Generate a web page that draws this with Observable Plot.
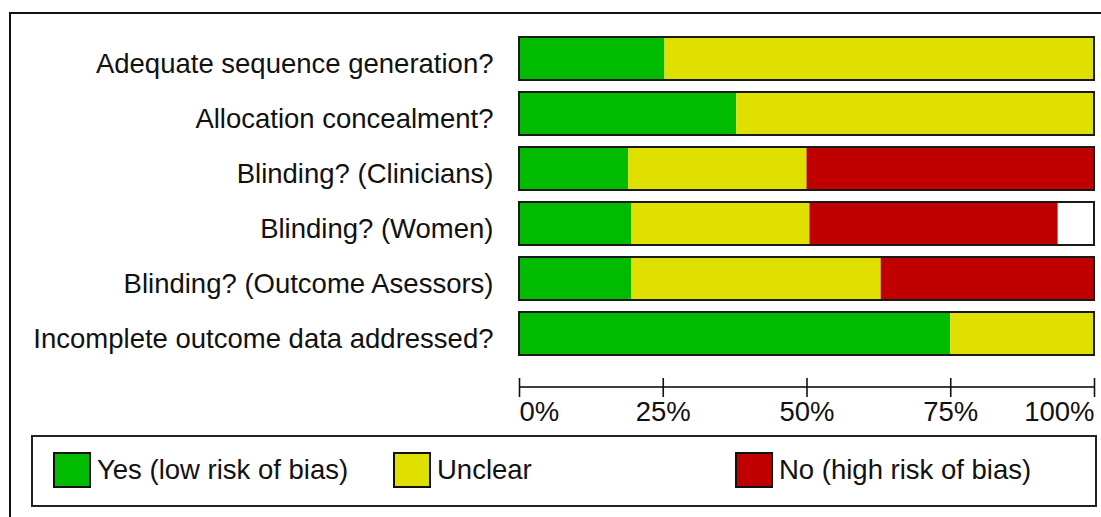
<!DOCTYPE html>
<html><head><meta charset="utf-8">
<script src="https://cdn.jsdelivr.net/npm/d3@7"></script>
<script src="https://cdn.jsdelivr.net/npm/@observablehq/plot@0.6"></script>
<style>
html,body{margin:0;padding:0;background:#fff;overflow:hidden;}
#wrap{position:relative;width:1101px;height:517px;overflow:hidden;font-family:"Liberation Sans",Arial,sans-serif;color:#111;}
#frame{position:absolute;left:9px;top:12px;width:2000px;height:2000px;border-left:2px solid #111;border-top:2px solid #111;}
#chart{position:absolute;left:0;top:0;}
#legend{position:absolute;left:31px;top:435px;width:1062px;height:68px;border:2px solid #222;}
.sw{position:absolute;top:15px;width:38px;height:36px;box-sizing:border-box;border:2px solid #111;}
.lt{position:absolute;top:15px;height:36px;line-height:36px;font-size:27.5px;white-space:nowrap;}
</style>
</head><body>
<div id="wrap"><div id="frame"></div><div id="chart"></div><div id="legend"></div></div>
<script>
const categories = [
  "Adequate sequence generation?",
  "Allocation concealment?",
  "Blinding? (Clinicians)",
  "Blinding? (Women)",
  "Blinding? (Outcome Asesssors)".replace("sss","ss"),
  "Incomplete outcome data addressed?"
];
const levels = ["Yes (low risk of bias)", "Unclear", "No (high risk of bias)", "Not reported"];
const colors = ["#00bb00", "#e0e000", "#c00000", "#ffffff"];
const yesValues = [25.3, 37.8, 19.0, 19.5, 19.5, 75.0];
const unclearValues = [74.7, 62.2, 31.0, 31.0, 43.4, 25.0];
const noValues = [0, 0, 50.0, 43.2, 37.1, 0];
const missingValues = [0, 0, 0, 6.3, 0, 0];
const tickValues = [0, 25, 50, 75, 100];
const tickLabels = ["0%", "25%", "50%", "75%", "100%"];

const series = [yesValues, unclearValues, noValues, missingValues];
const rows = [];
categories.forEach((c, i) => levels.forEach((l, j) => rows.push({q: c, level: l, value: series[j][i]})));
const ticks = tickValues.map((v, i) => ({v, label: tickLabels[i]}));

const plot = Plot.plot({
  width: 1101,
  height: 430,
  marginLeft: 519,
  marginRight: 7,
  marginTop: 378,
  marginBottom: 33,
  style: {fontFamily: "'Liberation Sans', Arial, sans-serif", fontSize: "27.5px", color: "#111", background: "transparent", overflow: "visible"},
  x: {domain: [0, 100], axis: null},
  y: {domain: categories, range: [22.4, 368.6], padding: 0.227, axis: null},
  color: {domain: levels, range: colors},
  marks: [
    Plot.barX(rows, Plot.stackX({x: "value", y: "q", fill: "level", order: null})),
    Plot.barX(categories, {x1: 0, x2: 100, y: d => d, fill: "none", stroke: "#1a1a1a", strokeWidth: 2}),
    Plot.axisY({tickSize: 0, tickPadding: 26, fontSize: 27.5, dy: 5.5, fill: "#111", label: null}),
    Plot.barX([0], {x1: 0, x2: 100, fill: "#111", insetTop: 8.2, insetBottom: 9.2}),
    Plot.ruleX(ticks, {x: "v", stroke: "#111", strokeWidth: 1.6}),
    Plot.text(ticks.slice(0, 1), {x: "v", text: "label", frameAnchor: "bottom", lineAnchor: "bottom", dy: 23, textAnchor: "start", fill: "#111"}),
    Plot.text(ticks.slice(1, 4), {x: "v", text: "label", frameAnchor: "bottom", lineAnchor: "bottom", dy: 23, textAnchor: "middle", fill: "#111"}),
    Plot.text(ticks.slice(4), {x: "v", text: "label", frameAnchor: "bottom", lineAnchor: "bottom", dy: 23, textAnchor: "end", fill: "#111"})
  ]
});
document.getElementById("chart").appendChild(plot);

// legend (HTML, below the chart)
const legendItems = [
  {label: levels[0], color: colors[0], sx: 20},
  {label: levels[1], color: colors[1], sx: 360},
  {label: levels[2], color: colors[2], sx: 702}
];
const lg = document.getElementById("legend");
legendItems.forEach(it => {
  const s = document.createElement("div");
  s.className = "sw"; s.style.left = it.sx + "px"; s.style.background = it.color;
  lg.appendChild(s);
  const t = document.createElement("div");
  t.className = "lt"; t.style.left = (it.sx + 44) + "px"; t.textContent = it.label;
  lg.appendChild(t);
});
</script>
</body></html>
